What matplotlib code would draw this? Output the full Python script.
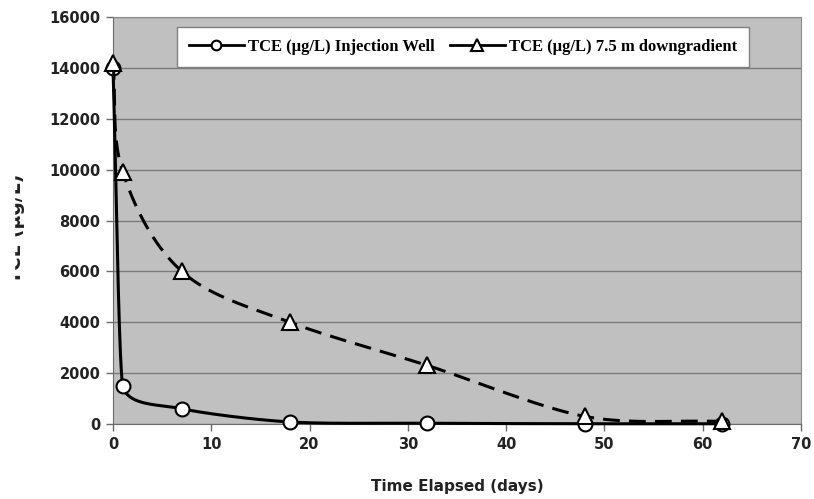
import numpy as np
import matplotlib.pyplot as plt
from matplotlib.lines import Line2D

days = [0, 1, 7, 18, 32, 48, 62]
tce_injection = [14000, 1500, 600, 80, 30, 10, 10]
tce_downgradient = [14200, 9900, 6000, 4000, 2300, 300, 100]
labels = ['TCE (µg/L) Injection Well', 'TCE (µg/L) 7.5 m downgradient']

xmax, ymax = 70, 16000


def smooth(x, y, sx, sy, n=40):
    # Excel-like smoothed line: cubic bezier through points, tangents from neighbours
    p = np.column_stack([np.asarray(x, float) * sx, np.asarray(y, float) * sy])
    m = len(p)
    seglen = np.linalg.norm(np.diff(p, axis=0), axis=1)
    out = [p[:1]]
    for i in range(m - 1):
        a, b = p[i], p[i + 1]
        ta = (p[i + 1] - p[i - 1]) if i > 0 else (b - a)
        tb = (p[i + 2] - p[i]) if i + 2 < m else (b - a)
        ta = ta / np.linalg.norm(ta)
        tb = tb / np.linalg.norm(tb)
        la = min(seglen[i], seglen[i - 1]) if i > 0 else seglen[i]
        lb = min(seglen[i], seglen[i + 1]) if i + 2 < m else seglen[i]
        c1 = a + ta * la / 3
        c2 = b - tb * lb / 3
        t = np.linspace(0, 1, n)[1:, None]
        out.append((1 - t) ** 3 * a + 3 * (1 - t) ** 2 * t * c1 + 3 * (1 - t) * t ** 2 * c2 + t ** 3 * b)
    c = np.vstack(out)
    return c[:, 0] / sx, c[:, 1] / sy


fig = plt.figure(figsize=(8.14, 4.99), dpi=100)
ax = fig.add_axes([0.1388, 0.1503, 0.8452, 0.8156])
ax.set_facecolor('#c0c0c0')

sx, sy = 688 / xmax, 407 / ymax
xi, yi = smooth(days, tce_injection, sx, sy)
xd, yd = smooth(days, tce_downgradient, sx, sy)

ax.plot(xi, yi, color='black', lw=2.2, zorder=3, clip_on=False)
ax.plot(days, tce_injection, ls='none', marker='o', ms=10, mfc='white', mec='black', mew=1.5,
        zorder=4, clip_on=False)
ax.plot(xd, yd, color='black', lw=2.2, dashes=(5.5, 3), zorder=5, clip_on=False)
ax.plot(days, tce_downgradient, ls='none', marker='^', ms=11, mfc='white', mec='black', mew=1.5,
        zorder=6, clip_on=False)

ax.set_xlim(0, xmax)
ax.set_ylim(0, ymax)
ax.set_xticks(range(0, 71, 10))
ax.set_yticks(range(0, 16001, 2000))
ax.yaxis.grid(True, color='#7a7a7a', lw=1)
ax.set_axisbelow(True)
for s in ['top', 'right']:
    ax.spines[s].set_color('#8a8a8a')
ax.spines['left'].set_color('#6a6a6a')
ax.spines['bottom'].set_color('#6a6a6a')
ax.tick_params(axis='both', colors='#6a6a6a', length=5, width=1, labelcolor='#222222',
               labelsize=10.5, pad=4)
for lab in ax.get_xticklabels() + ax.get_yticklabels():
    lab.set_fontweight('bold')

ax.set_xlabel('Time Elapsed (days)', fontsize=11, fontweight='bold', color='#222222', labelpad=20)

h1 = Line2D([], [], color='black', lw=2, marker='o', ms=7, mfc='white', mec='black', mew=1.5)
h2 = Line2D([], [], color='black', lw=2, marker='^', ms=8, mfc='white', mec='black', mew=1.5)
leg = ax.legend([h1, h2], labels, loc='upper left', bbox_to_anchor=(64 / 688, 0.975), ncol=2,
                borderaxespad=0, fancybox=False, framealpha=1, edgecolor='#808080',
                handlelength=3.3, columnspacing=0.9, handletextpad=0.25, borderpad=0.7,
                prop={'family': 'Liberation Serif', 'weight': 'bold', 'size': 12})
leg.get_frame().set_linewidth(1)
leg.set_zorder(10)

# y label partly cut off at the left edge as in the source image
fig.text(6 / 814, 0.543, 'TCE (µg/L)', rotation=90, fontsize=13.5, fontweight='bold',
         color='#222222', ha='left', va='center')
fig.patches.append(plt.Rectangle((0, 0), 14 / 814, 1, transform=fig.transFigure,
                                 color='white', zorder=10))

fig.savefig('out.png', dpi=100)
